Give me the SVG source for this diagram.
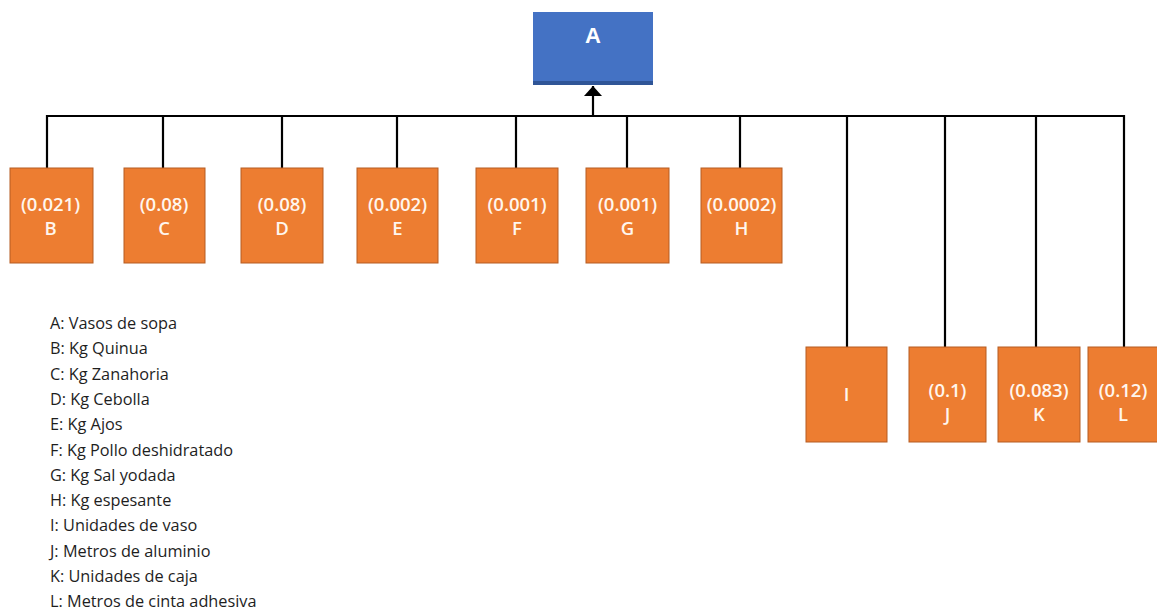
<svg xmlns="http://www.w3.org/2000/svg" width="1157" height="611" viewBox="0 0 1157 611">
  <defs>
    <marker id="arrowUp" viewBox="0 0 10 18" refX="10" refY="9" markerWidth="10" markerHeight="18" orient="auto" markerUnits="userSpaceOnUse">
      <path d="M0,0 L10,9 L0,18 Z" fill="#000"/>
    </marker>
    <style>
      .box { fill: #ED7D31; stroke: #B55D22; stroke-width: 1; }
      .root { fill: #4472C4; }
      .lbl { font-family: "Open Sans", "Noto Sans", sans-serif; font-weight: 600; font-size: 18.5px; fill: #FFF6EE; text-anchor: middle; }
      .rootlbl { font-family: "Liberation Sans", Arial, sans-serif; font-weight: bold; font-size: 22px; fill: #FFFFFF; text-anchor: middle; }
      .wire { stroke: #000; stroke-width: 2.2; fill: none; }
      .legend { font-family: "Open Sans", "Noto Sans", sans-serif; font-size: 16.3px; fill: #1E1E1E; }
    </style>
  </defs>
  <rect width="1157" height="611" fill="#FFFFFF"/>

  <!-- connectors -->
  <g id="connectors">
    <path class="wire" d="M47,168 V116 H1124 V347"/>
    <path class="wire" d="M163,116 V168 M282,116 V168 M397,116 V168 M516,116 V168 M627,116 V168 M740,116 V168"/>
    <path class="wire" d="M847,116 V347 M945,116 V347 M1036,116 V347"/>
    <path class="wire" d="M593,116 V86" marker-end="url(#arrowUp)"/>
  </g>

  <!-- root -->
  <g id="node-A">
    <rect class="root" x="533" y="12" width="120" height="73"/>
    <rect x="533" y="81" width="120" height="4" fill="#2F5597"/>
    <text class="rootlbl" x="593" y="43">A</text>
  </g>

  <!-- first row -->
  <g id="node-B">
    <rect class="box" x="10" y="168" width="83" height="95"/>
    <text class="lbl" x="50.5" y="211">(0.021)</text>
    <text class="lbl" x="50.5" y="235">B</text>
  </g>
  <g id="node-C">
    <rect class="box" x="124" y="168" width="81" height="95"/>
    <text class="lbl" x="164" y="211">(0.08)</text>
    <text class="lbl" x="164" y="235">C</text>
  </g>
  <g id="node-D">
    <rect class="box" x="241" y="168" width="82" height="95"/>
    <text class="lbl" x="282" y="211">(0.08)</text>
    <text class="lbl" x="282" y="235">D</text>
  </g>
  <g id="node-E">
    <rect class="box" x="357" y="168" width="81" height="95"/>
    <text class="lbl" x="397.5" y="211">(0.002)</text>
    <text class="lbl" x="397.5" y="235">E</text>
  </g>
  <g id="node-F">
    <rect class="box" x="476" y="168" width="82" height="95"/>
    <text class="lbl" x="517" y="211">(0.001)</text>
    <text class="lbl" x="517" y="235">F</text>
  </g>
  <g id="node-G">
    <rect class="box" x="586" y="168" width="83" height="95"/>
    <text class="lbl" x="627.5" y="211">(0.001)</text>
    <text class="lbl" x="627.5" y="235">G</text>
  </g>
  <g id="node-H">
    <rect class="box" x="701" y="168" width="81" height="95"/>
    <text class="lbl" x="741.5" y="211">(0.0002)</text>
    <text class="lbl" x="741.5" y="235">H</text>
  </g>

  <!-- second row -->
  <g id="node-I">
    <rect class="box" x="806" y="347" width="81" height="95"/>
    <text class="lbl" x="846.5" y="401">I</text>
  </g>
  <g id="node-J">
    <rect class="box" x="909" y="347" width="77" height="95"/>
    <text class="lbl" x="947.5" y="397">(0.1)</text>
    <text class="lbl" x="947.5" y="421">J</text>
  </g>
  <g id="node-K">
    <rect class="box" x="998" y="347" width="82" height="95"/>
    <text class="lbl" x="1039" y="397">(0.083)</text>
    <text class="lbl" x="1039" y="421">K</text>
  </g>
  <g id="node-L">
    <rect class="box" x="1088" y="347" width="80" height="95"/>
    <text class="lbl" x="1123" y="397">(0.12)</text>
    <text class="lbl" x="1123" y="421">L</text>
  </g>

  <!-- legend -->
  <g id="legend" class="legend">
    <text x="50" y="329">A: Vasos de sopa</text>
    <text x="50" y="354.3">B: Kg Quinua</text>
    <text x="50" y="379.6">C: Kg Zanahoria</text>
    <text x="50" y="404.9">D: Kg Cebolla</text>
    <text x="50" y="430.2">E: Kg Ajos</text>
    <text x="50" y="455.5">F: Kg Pollo deshidratado</text>
    <text x="50" y="480.8">G: Kg Sal yodada</text>
    <text x="50" y="506.1">H: Kg espesante</text>
    <text x="50" y="531.4">I: Unidades de vaso</text>
    <text x="50" y="556.7">J: Metros de aluminio</text>
    <text x="50" y="582">K: Unidades de caja</text>
    <text x="50" y="607.3">L: Metros de cinta adhesiva</text>
  </g>
</svg>
